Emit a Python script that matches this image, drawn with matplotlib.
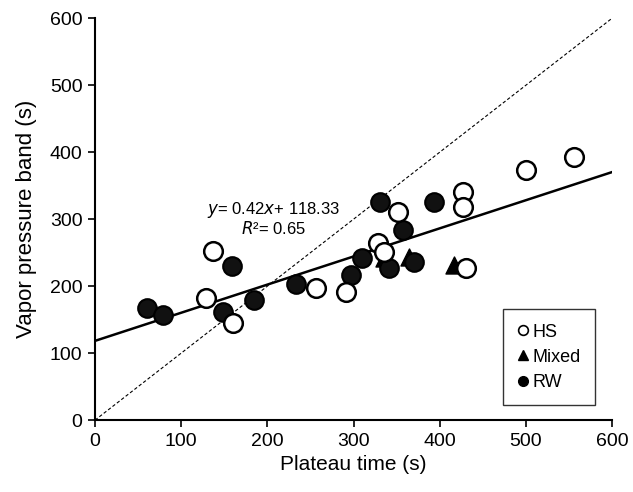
import numpy as np
import matplotlib.pyplot as plt
from matplotlib.lines import Line2D

plt.rcParams['font.family'] = ['Liberation Sans', 'DejaVu Sans']

# HS (open circles)
hs_x = [137, 129, 160, 256, 291, 328, 335, 352, 427, 427, 430, 500, 556]
hs_y = [252, 182, 145, 197, 191, 264, 251, 310, 340, 318, 227, 373, 393]

# Mixed (triangles)
mixed_x = [335, 364, 416]
mixed_y = [242, 243, 231]

# RW (filled circles)
rw_x = [60, 79, 149, 159, 185, 233, 297, 310, 331, 341, 357, 370, 393]
rw_y = [167, 157, 161, 230, 180, 204, 216, 242, 325, 227, 284, 236, 325]

slope = 0.42
intercept = 118.33
r2 = 0.65

fig = plt.figure(figsize=(6.33, 4.92), dpi=100)
ax = fig.add_axes([0.150, 0.146, 0.817, 0.817])

# 1:1 line and linear fit
ax.plot([0, 600], [0, 600], color='black', lw=0.8, ls=(0, (3, 2)), zorder=1)
xx = np.array([0, 600])
ax.plot(xx, slope * xx + intercept, color='black', lw=1.8, zorder=2)

ms = 180
ax.scatter(mixed_x, mixed_y, marker='^', s=150, color='black', zorder=3)
ax.scatter(rw_x, rw_y, marker='o', s=ms, facecolor='#111111', edgecolor='black',
           lw=1.5, zorder=4)
ax.scatter(hs_x, hs_y, marker='o', s=ms, facecolor='white', edgecolor='black',
           lw=1.8, zorder=5)

ax.text(207, 314, r'$y$= 0.42$x$+ 118.33', ha='center', va='center', fontsize=12)
ax.text(207, 286, r'$R$²= %.2f' % r2, ha='center', va='center', fontsize=12)

ax.set_xlim(0, 600)
ax.set_ylim(0, 600)
ax.set_xticks(range(0, 601, 100))
ax.set_yticks(range(0, 601, 100))
ax.spines['top'].set_visible(False)
ax.spines['right'].set_visible(False)
for s in ['left', 'bottom']:
    ax.spines[s].set_linewidth(1.5)
ax.tick_params(direction='out', length=5, width=1.2, labelsize=14, pad=4)
ax.set_xlabel('Plateau time (s)', fontsize=15, labelpad=4)
ax.set_ylabel('Vapor pressure band (s)', fontsize=16, labelpad=9)

handles = [
    Line2D([], [], ls='none', marker='o', ms=7, mfc='white', mec='black', mew=1.2),
    Line2D([], [], ls='none', marker='^', ms=7, color='black'),
    Line2D([], [], ls='none', marker='o', ms=7, color='black'),
]
leg = ax.legend(handles, ['HS', 'Mixed', 'RW'], loc='lower right',
                bbox_to_anchor=(0.967, 0.037), borderaxespad=0, fontsize=13,
                frameon=True, fancybox=False, edgecolor='black',
                handlelength=0.6, handletextpad=0.2, labelspacing=0.45,
                borderpad=0.8)
leg.get_frame().set_linewidth(1.0)

fig.savefig('out.png', dpi=100)
